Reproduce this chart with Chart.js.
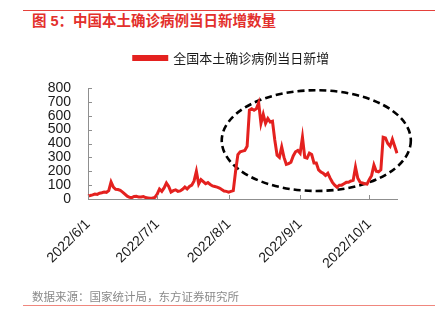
<!DOCTYPE html>
<html>
<head>
<meta charset="utf-8">
<script src="https://cdn.jsdelivr.net/npm/chart.js@4.4.1/dist/chart.umd.min.js"></script>
<style>
  html, body { margin: 0; padding: 0; background: #fff; }
  #wrap { position: relative; width: 447px; height: 327px; overflow: hidden; }
  #c { position: absolute; left: 0; top: 0; }
  .rule { position: absolute; left: 23px; width: 412px; height: 1px; }
  #title { position: absolute; left: 32px; top: 12px; font: bold 14.5px "Liberation Sans", "Noto Sans CJK SC", sans-serif; color: #e3302c; white-space: nowrap; line-height: 18px; }
  #source { position: absolute; left: 32px; top: 289px; font: 11.5px "Liberation Sans", "Noto Sans CJK SC", sans-serif; color: #8a8a8a; white-space: nowrap; line-height: 16px; }
</style>
</head>
<body>
<div id="wrap">
  <div class="rule" style="top:10px;background:#e5413b;"></div>
  <div id="title">图 5：中国本土确诊病例当日新增数量</div>
  <canvas id="c" width="447" height="327"></canvas>
  <div id="source">数据来源：国家统计局，东方证券研究所</div>
  <div class="rule" style="top:305px;background:#f0877e;"></div>
</div>
<script>
// ---- data (daily, 2022/6/1 .. 2022/10/13) ----
const startDate = [2022, 6, 1];
const dayCount = 135;
const seriesName = '全国本土确诊病例当日新增';
const newCases = [
  22,25,30,36,33,42,45,50,48,60,
  122,85,70,68,62,50,35,20,12,10,
  18,20,14,15,18,10,8,6,8,12,
  35,72,55,80,115,90,50,60,66,55,
  58,70,86,72,90,100,130,200,108,140,
  125,110,118,105,94,90,86,79,68,58,
  55,50,55,60,200,320,340,345,350,380,
  640,650,640,650,693,545,610,545,580,555,
  560,425,315,300,375,300,250,255,265,310,
  340,350,330,445,300,295,330,320,260,260,
  210,195,185,170,185,150,120,100,85,100,
  100,110,120,120,130,135,230,150,120,115,
  110,108,140,170,245,200,195,210,445,440,
  400,380,430,380,330
];
const yMin = 0, yMax = 800, yStep = 100;
// highlighted region (data units: day index / value)
const highlightX = [58, 140];
const highlightY = [58, 784];

// category labels
const dates = [];
{
  const d = new Date(startDate[0], startDate[1] - 1, startDate[2]);
  for (let i = 0; i < dayCount; i++) {
    dates.push(d.getFullYear() + '/' + (d.getMonth() + 1) + '/' + d.getDate());
    d.setDate(d.getDate() + 1);
  }
}
const isMonthStart = (lbl) => lbl.split('/')[2] === '1';

const AXIS_COLOR = '#8f8f8f';
const RED = '#e4211f';

const extras = {
  id: 'extras',
  beforeInit(chart) {
    const lg = chart.legend;
    if (lg) {
      const fit = lg.fit.bind(lg);
      lg.fit = function () { fit(); this.height += 13.5; };
    }
  },
  beforeDatasetsDraw(chart) {
    const {ctx, scales: {x, y}} = chart;
    const x0 = x.getPixelForValue(highlightX[0]), x1 = x.getPixelForValue(highlightX[1]);
    const y0 = y.getPixelForValue(highlightY[0]), y1 = y.getPixelForValue(highlightY[1]);
    ctx.save();
    ctx.beginPath();
    ctx.setLineDash([7, 4]);
    ctx.lineWidth = 2.6;
    ctx.strokeStyle = '#000';
    ctx.ellipse((x0 + x1) / 2, (y0 + y1) / 2, Math.abs(x1 - x0) / 2, Math.abs(y1 - y0) / 2, 0, 0, Math.PI * 2);
    ctx.stroke();
    ctx.restore();
  },
  afterDraw(chart) {
    const {ctx, scales: {x, y}, chartArea} = chart;
    ctx.save();
    ctx.strokeStyle = AXIS_COLOR;
    ctx.lineWidth = 1;
    ctx.beginPath();
    y.ticks.forEach((t, i) => {
      const py = Math.round(y.getPixelForTick(i)) + 0.5;
      ctx.moveTo(chartArea.left, py);
      ctx.lineTo(chartArea.left + 4, py);
    });
    dates.forEach((lbl, i) => {
      if (isMonthStart(lbl)) {
        const px = Math.round(x.getPixelForValue(i)) + 0.5;
        ctx.moveTo(px, chartArea.bottom);
        ctx.lineTo(px, chartArea.bottom - 4);
      }
    });
    ctx.stroke();
    ctx.restore();
  }
};

new Chart(document.getElementById('c'), {
  type: 'line',
  data: {
    labels: dates,
    datasets: [{
      label: seriesName,
      data: newCases,
      borderColor: RED,
      backgroundColor: RED,
      borderWidth: 3,
      pointRadius: 0,
      tension: 0,
      fill: false,
      yAxisID: 'y'
    }]
  },
  options: {
    responsive: false,
    animation: false,
    devicePixelRatio: 1,
    layout: { padding: { left: 45, right: 29, top: 41.5, bottom: 0 } },
    plugins: {
      legend: {
        display: true,
        position: 'top',
        labels: {
          boxWidth: 33,
          boxHeight: 3,
          padding: 10,
          color: '#1a1a1a',
          font: { family: '"Noto Sans CJK SC", "Liberation Sans", sans-serif', size: 13 }
        }
      },
      tooltip: { enabled: false }
    },
    scales: {
      x: {
        type: 'category',
        offset: false,
        grid: { display: true, drawOnChartArea: false, drawTicks: false },
        border: { display: true, color: AXIS_COLOR, width: 1 },
        ticks: {
          autoSkip: false,
          maxRotation: 45,
          minRotation: 45,
          padding: 17,
          color: '#1a1a1a',
          font: { family: '"Liberation Sans", Arial, sans-serif', size: 14 },
          callback(value, index) {
            const lbl = dates[index];
            return isMonthStart(lbl) ? lbl : null;
          }
        },
        afterFit(scale) { scale.height = 128; }
      },
      y: {
        position: 'left',
        min: yMin,
        max: yMax,
        grid: { display: true, drawOnChartArea: false, drawTicks: false },
        border: { display: true, color: AXIS_COLOR, width: 1 },
        ticks: {
          stepSize: yStep,
          autoSkip: false,
          padding: 17,
          color: '#1a1a1a',
          font: { family: '"Liberation Sans", Arial, sans-serif', size: 14 }
        },
        afterFit(scale) { scale.width = 43; }
      },
      yRight: {
        position: 'right',
        display: true,
        min: yMin,
        max: yMax,
        grid: { display: false, drawTicks: false },
        border: { display: false },
        ticks: { display: false },
        afterFit(scale) { scale.width = 21; }
      }
    }
  },
  plugins: [extras]
});
</script>
</body>
</html>
